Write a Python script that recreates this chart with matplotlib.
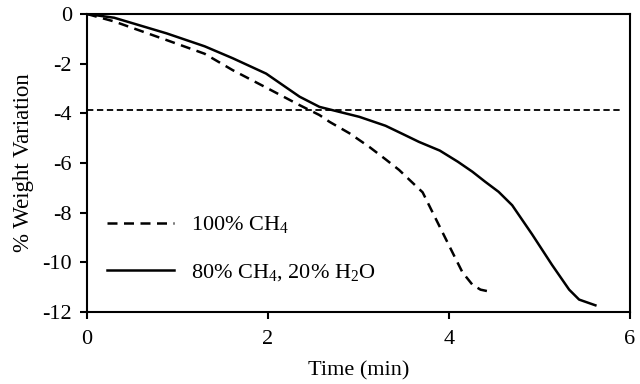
import matplotlib
matplotlib.use("Agg")
import matplotlib.pyplot as plt

plt.rcParams['font.family'] = ['Liberation Serif', 'DejaVu Serif']
plt.rcParams['mathtext.fontset'] = 'custom'
plt.rcParams['mathtext.rm'] = 'Liberation Serif'
plt.rcParams['mathtext.default'] = 'regular'
plt.rcParams['axes.unicode_minus'] = False

# 100% CH4 curve
t_ch4 = [0, 0.3, 0.88, 1.3, 1.61, 2.0, 2.35, 2.57, 2.68, 2.9, 3.12, 3.3,
         3.45, 3.6, 3.71, 3.89, 4.04, 4.15, 4.26, 4.35, 4.44]
w_ch4 = [0, -0.3, -1.05, -1.6, -2.26, -3.0, -3.67, -4.07, -4.34, -4.8, -5.35,
         -5.85, -6.28, -6.8, -7.18, -8.5, -9.6, -10.4, -10.9, -11.1, -11.17]

# 80% CH4, 20% H2O curve
t_mix = [0, 0.3, 0.88, 1.3, 1.61, 1.98, 2.35, 2.57, 2.8, 3.01, 3.3, 3.5,
         3.67, 3.9, 4.1, 4.26, 4.4, 4.55, 4.7, 4.92, 5.14, 5.33, 5.44, 5.62]
w_mix = [0, -0.15, -0.78, -1.3, -1.78, -2.4, -3.33, -3.74, -3.95, -4.14,
         -4.5, -4.85, -5.15, -5.5, -5.95, -6.35, -6.75, -7.16, -7.7, -8.87,
         -10.1, -11.1, -11.5, -11.73]

threshold = -3.87
x_ticks = [0, 2, 4, 6]
y_ticks = [0, -2, -4, -6, -8, -10, -12]

fig = plt.figure(figsize=(6.4, 3.84), dpi=100)
ax = fig.add_axes([0.136, 0.1875, 0.848, 0.776])

ax.plot([0, 5.9], [threshold, threshold], color='black', lw=1.3,
        dashes=(3.5, 2.0))
ax.plot(t_ch4, w_ch4, color='black', lw=1.8, dashes=(4.0, 2.6),
        label='100% CH$_4$')
ax.plot(t_mix, w_mix, color='black', lw=1.8, label='80% CH$_4$, 20% H$_2$O')

ax.set_xlim(0, 6)
ax.set_ylim(-12, 0)
ax.set_xticks(x_ticks)
ax.set_yticks(y_ticks)
ax.tick_params(direction='out', length=5, width=1.5, labelsize=16)
ax.tick_params(axis='x', pad=8)
ax.tick_params(axis='y', pad=6)
for s in ax.spines.values():
    s.set_linewidth(1.5)

ax.set_xlabel('Time (min)', fontsize=16, labelpad=9)
ax.set_ylabel('% Weight Variation', fontsize=16.5, labelpad=6)

ax.legend(loc='lower left', bbox_to_anchor=(0.0, 0.03), frameon=False,
          fontsize=16, handlelength=3.0, labelspacing=1.2, handletextpad=0.8)

fig.savefig('out.png', dpi=100)
